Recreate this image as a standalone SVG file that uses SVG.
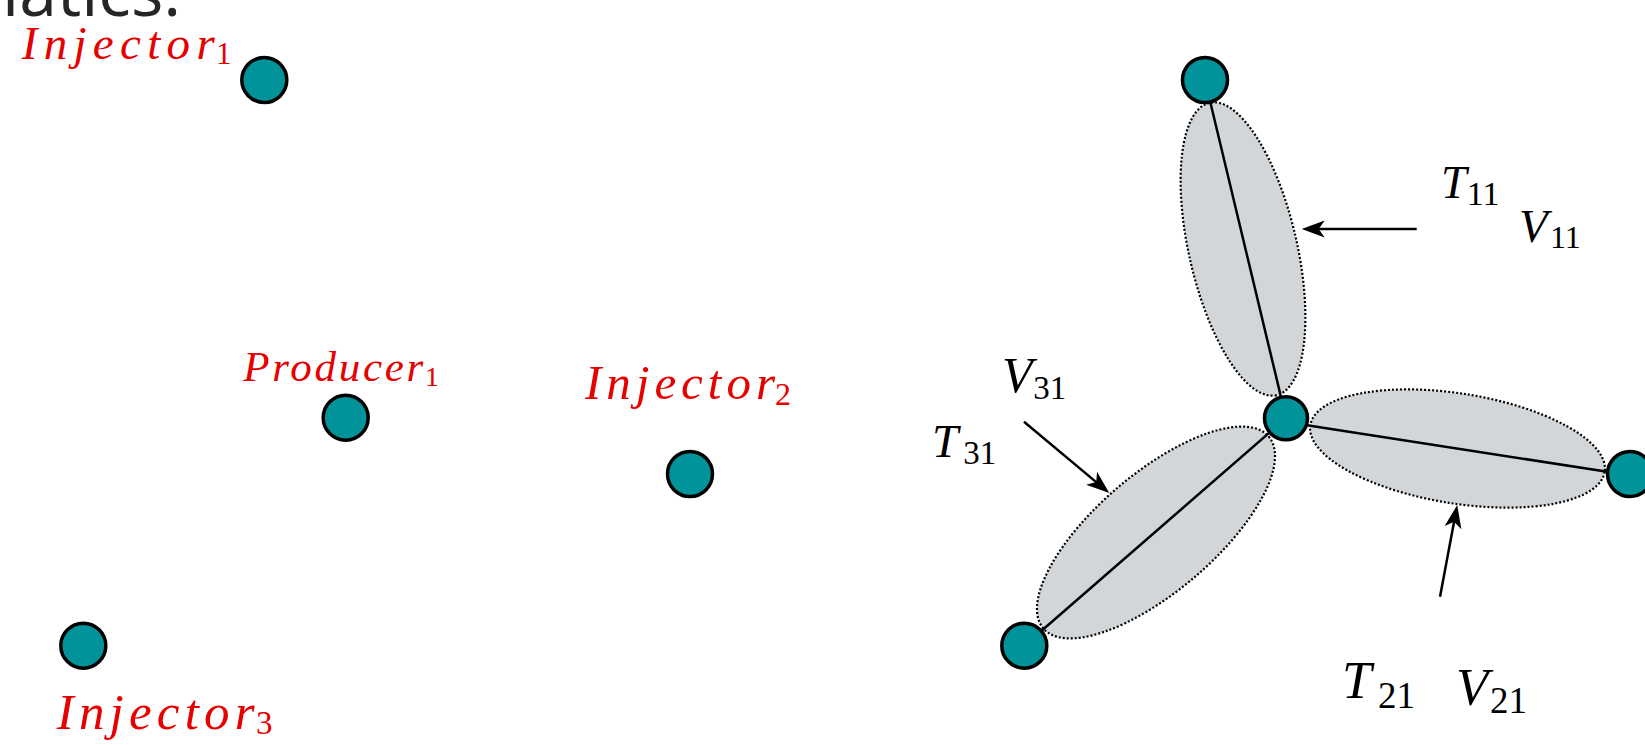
<svg xmlns="http://www.w3.org/2000/svg" width="1645" height="745" viewBox="0 0 1645 745">
<style>
.node{fill:#00939a;stroke:#000;stroke-width:3.5}
.red{fill:#e60000;font-family:"Liberation Serif",serif;font-style:italic}
.redsub{fill:#e60000;font-family:"Liberation Serif",serif}
.math{fill:#000;font-family:"Liberation Serif",serif;font-style:italic}
.sub{fill:#000;font-family:"Liberation Serif",serif}
.lobe{fill:#d3d6d9;stroke:#000;stroke-width:2.2;stroke-dasharray:2 2}
.edge{stroke:#000;stroke-width:2.5;fill:none}
.arrow{stroke:#000;stroke-width:2.5;fill:none;marker-end:url(#ah)}
.title{fill:#262626;font-family:"Open Sans",sans-serif}
</style>
<defs>
<marker id="ah" markerUnits="userSpaceOnUse" markerWidth="30" markerHeight="20" viewBox="-26 -10 30 20" refX="-10" refY="0" orient="auto" overflow="visible">
<path d="M0,0 L-23,-8.5 L-17,0 L-23,8.5 Z" fill="#000"/>
</marker>
</defs>
<rect width="1645" height="745" fill="#fff"/>
<text class="title" x="2" y="16" font-size="68">latics.</text>

<g id="lobes">
<ellipse class="lobe" cx="1243" cy="249" rx="150" ry="54" transform="rotate(77.1 1243 249)"/>
<ellipse class="lobe" cx="1457.5" cy="448.5" rx="149" ry="55" transform="rotate(9 1457.5 448.5)"/>
<ellipse class="lobe" cx="1156" cy="532.5" rx="148" ry="59" transform="rotate(-40.4 1156 532.5)"/>
</g>

<g id="connectors">
<line class="edge" x1="1205" y1="80" x2="1286" y2="418"/>
<line class="edge" x1="1286" y1="422" x2="1630" y2="475.3"/>
<line class="edge" x1="1024.3" y1="645.7" x2="1286" y2="418.3"/>
<line class="arrow" x1="1416.7" y1="229" x2="1311.7" y2="229"/>
<line class="arrow" x1="1024" y1="421.7" x2="1101.6" y2="486.6"/>
<line class="arrow" x1="1440" y1="596.7" x2="1455.4" y2="514.8"/>
</g>

<g id="injector1">
<circle class="node" cx="264.3" cy="80" r="22.5"/>
<text class="red" x="21.7" y="59.3" font-size="47" textLength="193" lengthAdjust="spacing">Injector</text>
<text class="redsub" x="216" y="63.5" font-size="31">1</text>
</g>
<g id="producer1">
<circle class="node" cx="345.7" cy="417.7" r="22.5"/>
<text class="red" x="243.3" y="380.7" font-size="43" textLength="180" lengthAdjust="spacing">Producer</text>
<text class="redsub" x="425" y="385.5" font-size="28">1</text>
</g>
<g id="injector2">
<circle class="node" cx="690" cy="474" r="22.5"/>
<text class="red" x="585" y="399.3" font-size="49" textLength="190" lengthAdjust="spacing">Injector</text>
<text class="redsub" x="775" y="405" font-size="32">2</text>
</g>
<g id="injector3">
<circle class="node" cx="83.3" cy="645.7" r="22.5"/>
<text class="red" x="56.7" y="729.3" font-size="51" textLength="198" lengthAdjust="spacing">Injector</text>
<text class="redsub" x="256" y="734" font-size="33">3</text>
</g>

<g id="node-top">
<circle class="node" cx="1205" cy="80" r="22.5"/>
</g>
<g id="node-center">
<circle class="node" cx="1286" cy="418.3" r="21.5"/>
</g>
<g id="node-right">
<circle class="node" cx="1630" cy="474" r="22.5"/>
</g>
<g id="node-bottomleft">
<circle class="node" cx="1024.3" cy="645.7" r="22.5"/>
</g>

<g id="labels">
<text class="math" x="1441" y="198.3" font-size="46">T</text>
<text class="sub" x="1466.7" y="205" font-size="34">11</text>
<text class="math" x="1519" y="241.7" font-size="47">V</text>
<text class="sub" x="1550" y="248.3" font-size="32">11</text>
<text class="math" x="1002" y="391.7" font-size="50">V</text>
<text class="sub" x="1033.3" y="399.3" font-size="33">31</text>
<text class="math" x="932" y="457.3" font-size="47">T</text>
<text class="sub" x="963.3" y="464" font-size="33">31</text>
<text class="math" x="1342" y="698.3" font-size="53">T</text>
<text class="sub" x="1378" y="708.3" font-size="37">21</text>
<text class="math" x="1456" y="705" font-size="53">V</text>
<text class="sub" x="1490" y="713.3" font-size="37">21</text>
</g>
</svg>
